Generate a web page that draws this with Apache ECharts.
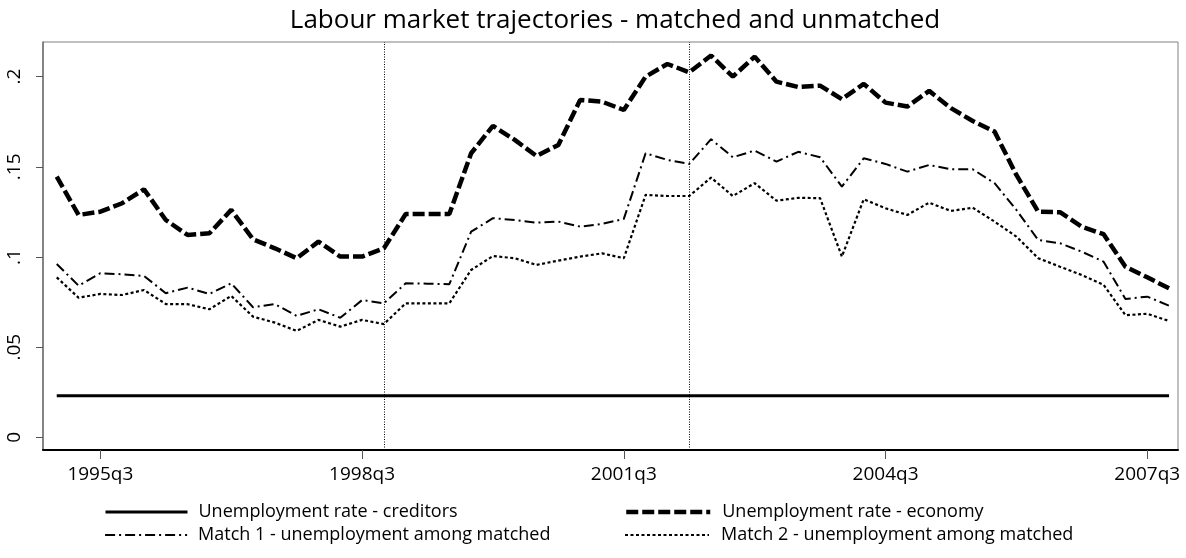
<!DOCTYPE html>
<html>

<head>
  <meta charset="utf-8">
  <title>Labour market trajectories</title>
  <script src="https://cdn.jsdelivr.net/npm/echarts@6/dist/echarts.min.js"></script>
</head>

<body style="margin:0">
  <div id="main" style="width: 1186px;height:558px;"></div>
  <script type="text/javascript">
    // quarters 1995q1 .. 2007q4, x position = index
    var startYear = 1995
    var quarters = []
    for (var k = 0; k < 52; k++) {
      quarters.push((startYear + Math.floor(k / 4)) + 'q' + (k % 4 + 1))
    }
    var xTickIdx = [2, 14, 26, 38, 50]
    var yTicks = [0, 0.05, 0.1, 0.15, 0.2]
    var yTickLabels = ['0', '.05', '.1', '.15', '.2']
    // vertical reference lines: 1998q4, 2002q2
    var refLines = [15, 29]

    var creditors = [
      0.023, 0.023, 0.023, 0.023, 0.023, 0.023, 0.023, 0.023, 0.023, 0.023, 0.023, 0.023, 0.023,
      0.023, 0.023, 0.023, 0.023, 0.023, 0.023, 0.023, 0.023, 0.023, 0.023, 0.023, 0.023, 0.023,
      0.023, 0.023, 0.023, 0.023, 0.023, 0.023, 0.023, 0.023, 0.023, 0.023, 0.023, 0.023, 0.023,
      0.023, 0.023, 0.023, 0.023, 0.023, 0.023, 0.023, 0.023, 0.023, 0.023, 0.023, 0.023, 0.023
    ]
    var economy = [
      0.1445, 0.1233, 0.1251, 0.1298, 0.1375, 0.1205, 0.1122, 0.1131, 0.1261, 0.1098, 0.1048, 0.0993, 0.1085,
      0.1002, 0.1002, 0.1048, 0.1238, 0.1238, 0.1238, 0.1575, 0.1727, 0.1649, 0.156, 0.1621, 0.1871, 0.1861,
      0.1815, 0.2, 0.207, 0.2024, 0.2117, 0.2, 0.2111, 0.1972, 0.1942, 0.195, 0.1875, 0.196, 0.1856,
      0.1834, 0.1921, 0.1825, 0.1754, 0.1695, 0.1455, 0.1251, 0.1248, 0.1168, 0.1126, 0.0946, 0.0887, 0.0826
    ]
    var match1 = [
      0.0961, 0.0841, 0.091, 0.0904, 0.0895, 0.0799, 0.083, 0.0795, 0.0854, 0.0721, 0.0739, 0.0673, 0.071,
      0.0663, 0.0761, 0.0743, 0.0854, 0.0852, 0.0849, 0.114, 0.1215, 0.1205, 0.119, 0.1196, 0.1168, 0.1183,
      0.1211, 0.1575, 0.1538, 0.1516, 0.1653, 0.1553, 0.159, 0.1529, 0.1583, 0.1553, 0.139, 0.1547, 0.1516,
      0.1473, 0.151, 0.1486, 0.1486, 0.1409, 0.1261, 0.1094, 0.1076, 0.1029, 0.0974, 0.0767, 0.078, 0.073
    ]
    var match2 = [
      0.0887, 0.0774, 0.0795, 0.0789, 0.0817, 0.0739, 0.0738, 0.071, 0.0784, 0.0669, 0.0636, 0.059, 0.0651,
      0.0614, 0.0651, 0.0628, 0.0743, 0.0743, 0.0743, 0.0928, 0.1005, 0.0993, 0.0956, 0.098, 0.1002, 0.102,
      0.0993, 0.1344, 0.1338, 0.1338, 0.144, 0.1338, 0.1409, 0.1312, 0.1328, 0.1326, 0.1002, 0.132, 0.127,
      0.1233, 0.1301, 0.1255, 0.1273, 0.1196, 0.1113, 0.0993, 0.0946, 0.09, 0.0845, 0.0677, 0.0685, 0.0645
    ]

    var names = [
      'Unemployment rate - creditors',
      'Unemployment rate - economy',
      'Match 1 - unemployment among matched',
      'Match 2 - unemployment among matched'
    ]

    function pairs(arr) {
      return arr.map(function (v, i) { return [i, v] })
    }

    var font = 'Open Sans'

    // one legend per entry, laid out as two columns x two rows
    function legendItem(name, left, top, width, lw, pad) {
      return {
        left: left, top: top,
        padding: 0,
        itemWidth: width, itemHeight: 20,
        itemStyle: { opacity: 0 },
        selectedMode: false,
        textStyle: { fontFamily: font, fontSize: 18, lineHeight: 20, color: '#000', padding: [0, 0, 0, pad] },
        data: [{ name: name, lineStyle: { width: lw } }]
      }
    }

    var myChart = echarts.init(document.getElementById('main'))
    myChart.setOption({
      animation: false,
      backgroundColor: '#fff',
      title: {
        text: 'Labour market trajectories - matched and unmatched',
        left: 610,
        textAlign: 'center',
        top: 3,
        textStyle: { fontFamily: font, fontWeight: 'normal', fontSize: 26, color: '#000' }
      },
      grid: {
        left: 43, top: 42, right: 8, bottom: 108,
        show: true, borderColor: '#808080', borderWidth: 1
      },
      legend: [
        legendItem(names[0], 104, 502, 82, 3, 6),
        legendItem(names[2], 104, 525, 82, 2.2, 6),
        legendItem(names[1], 624, 502, 84, 4.5, 7),
        legendItem(names[3], 624, 525, 84, 2, 7)
      ],
      xAxis: {
        type: 'value',
        min: -0.63,
        max: 51.41,
        splitLine: { show: false },
        axisLine: { show: true, onZero: false, lineStyle: { color: '#000', width: 2 } },
        axisTick: { show: true, customValues: xTickIdx, length: 9, lineStyle: { color: '#555' } },
        axisLabel: {
          customValues: xTickIdx,
          margin: 15,
          fontFamily: font, fontSize: 19, color: '#000',
          formatter: function (v) { return quarters[Math.round(v)] }
        }
      },
      yAxis: {
        type: 'value',
        min: -0.00704,
        max: 0.2192,
        splitLine: { show: false },
        axisLine: { show: true, onZero: false, lineStyle: { color: '#707070', width: 1.5 } },
        axisTick: { show: true, customValues: yTicks, length: 7, lineStyle: { color: '#555' } },
        axisLabel: {
          customValues: yTicks,
          rotate: 90,
          margin: 19,
          fontFamily: font, fontSize: 19, color: '#000',
          formatter: function (v) {
            var i = yTicks.indexOf(v)
            return i >= 0 ? yTickLabels[i] : ''
          }
        }
      },
      series: [{
        name: names[0],
        type: 'line',
        symbol: 'none',
        data: pairs(creditors),
        lineStyle: { color: '#000', width: 3 },
        itemStyle: { color: '#000' },
        markLine: {
          silent: true,
          symbol: 'none',
          label: { show: false },
          lineStyle: { color: '#000', type: [1, 1.5], width: 1 },
          data: refLines.map(function (x) { return { xAxis: x } })
        }
      }, {
        name: names[1],
        type: 'line',
        symbol: 'none',
        data: pairs(economy),
        lineStyle: { color: '#000', width: 4.5, type: [12, 4] },
        itemStyle: { color: '#000' }
      }, {
        name: names[2],
        type: 'line',
        symbol: 'none',
        data: pairs(match1),
        lineStyle: { color: '#000', width: 2, type: [10, 4, 2, 4] },
        itemStyle: { color: '#000' }
      }, {
        name: names[3],
        type: 'line',
        symbol: 'none',
        data: pairs(match2),
        lineStyle: { color: '#000', width: 2.2, type: [3, 2.5] },
        itemStyle: { color: '#000' }
      }]
    })
  </script>
</body>

</html>
